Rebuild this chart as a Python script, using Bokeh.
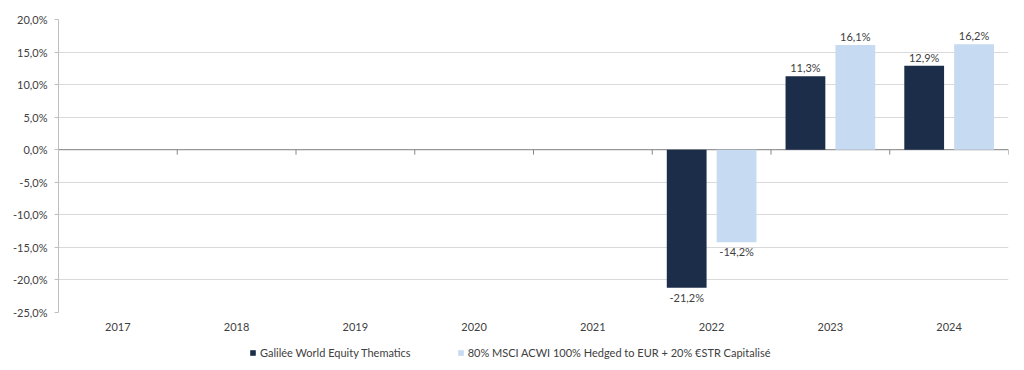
from bokeh.plotting import figure
from bokeh.layouts import column
from bokeh.models import ColumnDataSource, FixedTicker, Legend, LegendItem, Span
from bokeh.core.properties import value
from bokeh.embed import file_html
from bokeh.resources import INLINE

years = ["2017", "2018", "2019", "2020", "2021", "2022", "2023", "2024"]
fund = [None, None, None, None, None, -21.2, 11.3, 12.9]
bench = [None, None, None, None, None, -14.2, 16.1, 16.2]
series_names = ["Galilée World Equity Thematics",
                "80% MSCI ACWI 100% Hedged to EUR + 20% €STR Capitalisé"]
y_ticks = [-25, -20, -15, -10, -5, 0, 5, 10, 15, 20]

FONT = "Lato"
DARK = "#1b2d49"
LIGHT = "#c6daf1"
TXT = "#404040"
COLORS = [DARK, LIGHT]

def pct(v):
    return f"{v:.1f}%".replace(".", ",")

def make_source(vals, offset, positive):
    xs, tops, labels = [], [], []
    for i, v in enumerate(vals):
        if v is None or (v >= 0) != positive:
            continue
        xs.append(i + 0.5 + offset)
        tops.append(v)
        labels.append(pct(v))
    return ColumnDataSource(dict(x=xs, top=tops, label=labels))

n = len(years)
p = figure(width=1024, height=340, x_range=(0, n), y_range=(y_ticks[0], y_ticks[-1]),
           output_backend="svg", toolbar_location=None,
           min_border_left=58, min_border_right=16, min_border_top=19, min_border_bottom=28)
p.outline_line_color = None
p.background_fill_color = "white"

p.ygrid.ticker = FixedTicker(ticks=y_ticks)
p.ygrid.grid_line_color = "#d9d9d9"
p.xgrid.visible = False

zero = Span(location=0, dimension="width", line_color="#868686", line_width=1, level="underlay")
p.add_layout(zero)

# category boundary ticks on the zero line
bounds = list(range(1, n + 1))
p.segment(x0=bounds, y0=[0] * len(bounds), x1=bounds, y1=[-0.75] * len(bounds),
          line_color="#868686", line_width=1)

for vals, off, col in ((fund, -0.21, DARK), (bench, 0.21, LIGHT)):
    for pos in (True, False):
        s = make_source(vals, off, pos)
        p.vbar(x="x", top="top", bottom=0, width=0.335, source=s,
               fill_color=col, line_color=None)
        p.text(x="x", y="top", text="label", source=s, text_align="center",
               text_baseline="bottom" if pos else "top", y_offset=-2 if pos else 3,
               text_font=value(FONT), text_font_size="11px", text_color=TXT)

# y axis
ya = p.yaxis[0]
ya.ticker = FixedTicker(ticks=y_ticks)
ya.major_label_overrides = {t: pct(float(t)) for t in y_ticks}
ya.axis_line_color = "#bfbfbf"
ya.major_tick_line_color = "#bfbfbf"
ya.major_tick_out = 4
ya.major_tick_in = 0
ya.minor_tick_line_color = None
ya.major_label_text_font = FONT
ya.major_label_text_font_size = "11px"
ya.major_label_text_color = TXT
ya.major_label_standoff = 7

# x axis
xa = p.xaxis[0]
xa.ticker = FixedTicker(ticks=[i + 0.5 for i in range(n)])
xa.major_label_overrides = {i + 0.5: y for i, y in enumerate(years)}
xa.axis_line_color = None
xa.major_tick_line_color = None
xa.minor_tick_line_color = None
xa.major_label_text_font = FONT
xa.major_label_text_font_size = "11px"
xa.major_label_text_color = TXT
xa.major_label_standoff = 4

# legend strip (swatch renderers are zero-height bars, only used for the legend)
lg = figure(width=1024, height=30, x_range=(0, 1), y_range=(0, 1),
            output_backend="svg", toolbar_location=None,
            x_axis_type=None, y_axis_type=None,
            min_border_left=0, min_border_right=0, min_border_top=0, min_border_bottom=0)
lg.outline_line_color = None
lg.xgrid.visible = False
lg.ygrid.visible = False
items = []
for name, col in zip(series_names, COLORS):
    r = lg.vbar(x=[0.5], top=[0.0], bottom=[0.0], width=0.1,
                fill_color=col, line_color=None)
    items.append(LegendItem(label=name, renderers=[r]))
legend = Legend(items=items, orientation="horizontal", location=(191, 11), spacing=46,
                glyph_width=7, glyph_height=7, label_standoff=4,
                label_text_font=FONT, label_text_font_size="11px", label_text_color=TXT,
                border_line_color=None, background_fill_alpha=0, padding=0, margin=0)
lg.add_layout(legend)

layout = column(p, lg, spacing=0)
open("out.html", "w").write(file_html(layout, INLINE))
